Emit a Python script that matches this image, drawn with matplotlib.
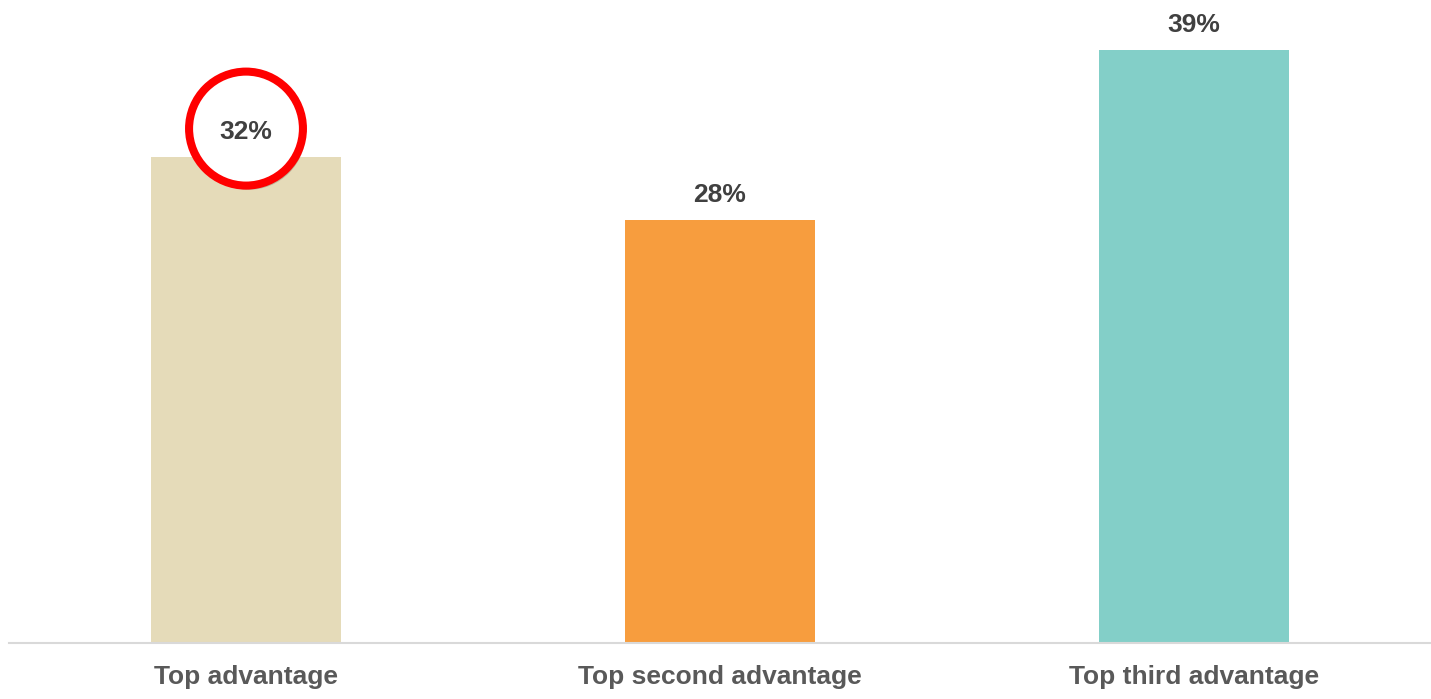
import matplotlib
matplotlib.use("Agg")
import matplotlib.pyplot as plt
from matplotlib.patches import Ellipse
import matplotlib.patheffects as pe

# data
categories = ["Top advantage", "Top second advantage", "Top third advantage"]
values = [32.0, 27.8, 39.0]
colors = ["#E5DBB9", "#F79D3E", "#83CFC8"]
highlight = 0  # bar whose label gets the red ring

plt.rcParams['font.family'] = ['Liberation Sans', 'DejaVu Sans']

W, H = 1431, 699
fig = plt.figure(figsize=(W / 100, H / 100), dpi=100)
ax = fig.add_axes([9 / W, 56 / H, (W - 9) / W, 643 / H])

x = list(range(len(categories)))
ax.bar(x, values, width=0.4025, color=colors, zorder=2)
ax.set_xlim(-0.5, 2.5)
ax.set_ylim(0, 643 / 15.2)

# value labels
for xi, v in zip(x, values):
    ax.annotate(f"{round(v)}%", (xi, v), xytext=(0, 25), textcoords="offset pixels",
                ha="center", va="center", fontsize=19, fontweight="bold",
                color="#404040", zorder=4)

# red ring around the highlighted label (white inside, soft shadow)
px_x = 474.5  # pixels per x unit
px_y = 15.2   # pixels per percent
ring = Ellipse((x[highlight], values[highlight] + 28 / px_y), 114 / px_x, 114 / px_y,
               facecolor="white", edgecolor="#FF0000", linewidth=5.8, zorder=3,
               path_effects=[pe.SimplePatchShadow(offset=(2, -3), alpha=0.18,
                                                  shadow_rgbFace="#000000"),
                             pe.Normal()])
ax.add_patch(ring)

# axes styling
for s in ["top", "right", "left"]:
    ax.spines[s].set_visible(False)
ax.spines["bottom"].set_color("#D9D9D9")
ax.spines["bottom"].set_linewidth(1.5)
ax.set_yticks([])
ax.set_xticks(x)
ax.set_xticklabels(categories, fontsize=19, fontweight="bold", color="#595959")
ax.tick_params(axis="x", length=0, pad=16)

fig.savefig("out.png", dpi=100, facecolor="white")
